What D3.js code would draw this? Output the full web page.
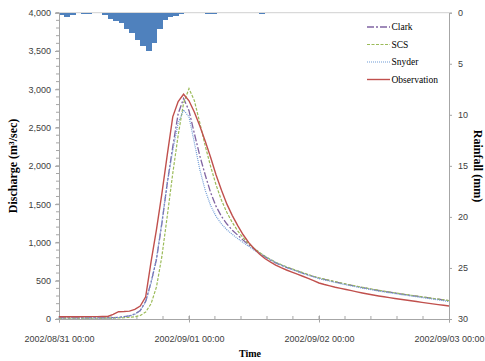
<!DOCTYPE html>
<html>
<head>
<meta charset="utf-8">
<script src="https://cdn.jsdelivr.net/npm/d3@7"></script>
<style>
    body { margin: 0; background: #fff; }
    .tick text { font-family: "Liberation Sans", Arial, sans-serif; font-size: 9px; fill: #404040; }
    .axisTitle { font-family: "Liberation Serif", "Times New Roman", serif; font-weight: bold; fill: #000; }
    .legendText { font-family: "Liberation Serif", "Times New Roman", serif; font-size: 9.5px; fill: #000; }
</style>
</head>
<body>
<script>
(function(){

//psuedo-global variables
var startTime = new Date(2002, 7, 31, 0, 0);
var endTime = new Date(2002, 8, 3, 0, 0);
var dateTicks = [new Date(2002, 7, 31), new Date(2002, 8, 1), new Date(2002, 8, 2), new Date(2002, 8, 3)];
var dischargeTicks = [0, 500, 1000, 1500, 2000, 2500, 3000, 3500, 4000];
var rainTicks = [0, 5, 10, 15, 20, 25, 30];

//hourly rainfall (mm), one bar per hour from 2002/08/31 00:00
var rainfall = [0.26, 0.4, 0.2, 0.07, 0.13, 0.1, 0.03, 0.03, 0.2, 0.6,
                0.8, 1.05, 1.55, 2.0, 2.7, 3.3, 3.75, 3.0, 1.6, 0.7,
                0.4, 0.3, 0.15, 0.05, 0.05, 0.03, 0.03, 0.13, 0.13, 0.03,
                0.03, 0, 0.03, 0, 0, 0, 0.03, 0.1, 0.03, 0];

//hourly discharge (m3/sec), hour 0 to 72
var clark = [15, 15, 15, 15, 15, 15, 15, 15, 16, 16,
             18, 22, 30, 42, 65, 110, 230, 480, 780, 1250,
             1780, 2250, 2680, 2880, 2720, 2420, 2130, 1880, 1650, 1470,
             1340, 1240, 1160, 1095, 1030, 970, 915, 865, 815, 770,
             733, 702, 675, 650, 625, 600, 577, 555, 535, 518,
             502, 486, 470, 455, 440, 425, 411, 398, 385, 372,
             360, 350, 340, 329, 318, 308, 298, 288, 278, 268,
             258, 249, 240];
var scs = [10, 10, 10, 10, 10, 10, 10, 10, 10, 11,
           12, 14, 17, 22, 30, 45, 90, 200, 420, 820,
           1350, 1900, 2400, 2820, 3010, 2850, 2560, 2260, 1990, 1750,
           1550, 1390, 1260, 1150, 1060, 985, 925, 870, 822, 780,
           742, 710, 682, 656, 630, 605, 581, 558, 538, 520,
           504, 488, 472, 457, 442, 428, 414, 401, 388, 375,
           363, 352, 342, 331, 320, 310, 300, 290, 280, 270,
           260, 250, 241];
var snyder = [14, 14, 14, 14, 14, 14, 14, 14, 15, 15,
              16, 20, 28, 40, 62, 108, 225, 470, 790, 1270,
              1780, 2200, 2560, 2730, 2640, 2300, 1950, 1680, 1480, 1340,
              1240, 1165, 1105, 1050, 1000, 950, 902, 857, 815, 775,
              738, 704, 674, 646, 620, 595, 571, 549, 528, 510,
              493, 477, 461, 446, 432, 418, 404, 391, 378, 365,
              353, 342, 331, 320, 310, 300, 290, 280, 270, 260,
              250, 240, 226];
var observation = [30, 30, 30, 30, 30, 31, 31, 31, 32, 33,
                   60, 95, 97, 103, 125, 170, 290, 750, 1170, 1640,
                   2150, 2640, 2840, 2935, 2850, 2700, 2520, 2320, 2110, 1880,
                   1680, 1500, 1350, 1220, 1100, 1000, 920, 850, 790, 745,
                   705, 670, 640, 612, 585, 558, 530, 500, 470, 450,
                   432, 415, 400, 385, 370, 355, 340, 326, 313, 301,
                   290, 279, 268, 258, 248, 238, 228, 217, 207, 197,
                   188, 179, 170];

var seriesNames = ["Clark", "SCS", "Snyder", "Observation"];
var seriesData = [clark, scs, snyder, observation];
var seriesColors = ["#8064a2", "#9bbb59", "#6f9bd6", "#c0504d"];
var seriesDash = ["7,2,2,2", "3,1.5", "1,1", null];
var seriesWidth = [1.3, 1.2, 1.2, 1.4];

//begin script when window loads
window.onload = setChart();

function setChart(){

    //chart frame dimensions
    var width = 485,
        height = 361;

    var plot = {left: 59, right: 449, top: 12.7, bottom: 319};

    var svg = d3.select("body")
        .append("svg")
        .attr("width", width)
        .attr("height", height);

    //scales
    var x = d3.scaleTime()
        .domain([startTime, endTime])
        .range([plot.left, plot.right]);

    var y = d3.scaleLinear()
        .domain([0, 4000])
        .range([plot.bottom, plot.top]);

    var yRain = d3.scaleLinear()
        .domain([0, 30])
        .range([plot.top, plot.bottom]);

    setRainfall(svg, x, yRain);
    setAxes(svg, x, y, yRain, plot);
    setLines(svg, x, y);
    setLegend(svg);
    setTitles(svg, plot);
};

function hourToDate(i){
    return d3.timeHour.offset(startTime, i);
};

function setRainfall(svg, x, yRain){

    //top border / reversed rainfall category axis
    svg.append("line")
        .attr("x1", x(startTime)).attr("x2", x(endTime))
        .attr("y1", yRain(0)).attr("y2", yRain(0))
        .attr("stroke", "#d0d0d0")
        .attr("stroke-width", 1);

    svg.selectAll(".rainBar")
        .data(rainfall)
        .enter()
        .append("rect")
        .attr("class", "rainBar")
        .attr("x", function(d, i){ return x(hourToDate(i)); })
        .attr("width", function(d, i){ return x(hourToDate(i + 1)) - x(hourToDate(i)) + 0.6; })
        .attr("y", yRain(0))
        .attr("height", function(d){ return yRain(d) - yRain(0); })
        .attr("fill", "#4f81bd")
        .attr("shape-rendering", "crispEdges");
};

function setAxes(svg, x, y, yRain, plot){

    //left discharge axis
    var yAxis = d3.axisLeft(y)
        .tickValues(dischargeTicks)
        .tickSize(4)
        .tickPadding(4)
        .tickFormat(d3.format(","));

    var gy = svg.append("g")
        .attr("transform", "translate(" + plot.left + ",0)")
        .call(yAxis);

    //minor ticks every 100
    gy.selectAll(".minorTick")
        .data(d3.range(0, 4001, 100))
        .enter()
        .append("line")
        .attr("class", "minorTick")
        .attr("x1", -3).attr("x2", 0)
        .attr("y1", function(d){ return y(d); })
        .attr("y2", function(d){ return y(d); })
        .attr("stroke", "#a6a6a6");

    //right rainfall axis
    var rAxis = d3.axisRight(yRain)
        .tickValues(rainTicks)
        .tickSize(3)
        .tickPadding(6);

    svg.append("g")
        .attr("transform", "translate(" + plot.right + ",0)")
        .call(rAxis);

    //bottom time axis
    var xAxis = d3.axisBottom(x)
        .tickValues(dateTicks)
        .tickSize(3.5)
        .tickPadding(13)
        .tickFormat(d3.timeFormat("%Y/%m/%d %H:%M"));

    var gx = svg.append("g")
        .attr("transform", "translate(0," + plot.bottom + ")")
        .call(xAxis);

    gx.selectAll(".tick line")
        .attr("y1", -3.5);

    //minor ticks, five per day
    gx.selectAll(".minorTick")
        .data(d3.range(0, 72, 4.8))
        .enter()
        .append("line")
        .attr("class", "minorTick")
        .attr("x1", function(d){ return x(d3.timeMinute.offset(startTime, d * 60)); })
        .attr("x2", function(d){ return x(d3.timeMinute.offset(startTime, d * 60)); })
        .attr("y1", -3).attr("y2", 0)
        .attr("stroke", "#a6a6a6");

    svg.selectAll(".domain").attr("stroke", "#a6a6a6");
    svg.selectAll(".tick line").attr("stroke", "#a6a6a6");
};

function setLines(svg, x, y){

    var line = d3.line()
        .x(function(d, i){ return x(hourToDate(i)); })
        .y(function(d){ return y(d); });

    seriesData.forEach(function(values, s){
        svg.append("path")
            .datum(values)
            .attr("class", "series")
            .attr("d", line)
            .attr("fill", "none")
            .attr("stroke", seriesColors[s])
            .attr("stroke-width", seriesWidth[s])
            .attr("stroke-dasharray", seriesDash[s]);
    });
};

function setLegend(svg){

    var rows = [27, 44.5, 62, 79.5];

    var legend = svg.selectAll(".legendItem")
        .data(seriesNames)
        .enter()
        .append("g")
        .attr("class", "legendItem")
        .attr("transform", function(d, i){ return "translate(367," + rows[i] + ")"; });

    legend.append("line")
        .attr("x1", 0).attr("x2", 23)
        .attr("stroke", function(d, i){ return seriesColors[i]; })
        .attr("stroke-width", function(d, i){ return seriesWidth[i]; })
        .attr("stroke-dasharray", function(d, i){ return seriesDash[i]; });

    legend.append("text")
        .attr("class", "legendText")
        .attr("x", 24.5)
        .attr("dy", "0.33em")
        .text(function(d){ return d; });
};

function setTitles(svg, plot){

    svg.append("text")
        .attr("class", "axisTitle")
        .attr("transform", "translate(17,166) rotate(-90)")
        .attr("text-anchor", "middle")
        .style("font-size", "12px")
        .text("Discharge (m³/sec)");

    svg.append("text")
        .attr("class", "axisTitle")
        .attr("transform", "translate(474,166) rotate(90)")
        .attr("text-anchor", "middle")
        .style("font-size", "12px")
        .text("Rainfall (mm)");

    svg.append("text")
        .attr("class", "axisTitle")
        .attr("x", 250)
        .attr("y", 357)
        .attr("text-anchor", "middle")
        .style("font-size", "10px")
        .text("Time");
};

})();
</script>
</body>
</html>
